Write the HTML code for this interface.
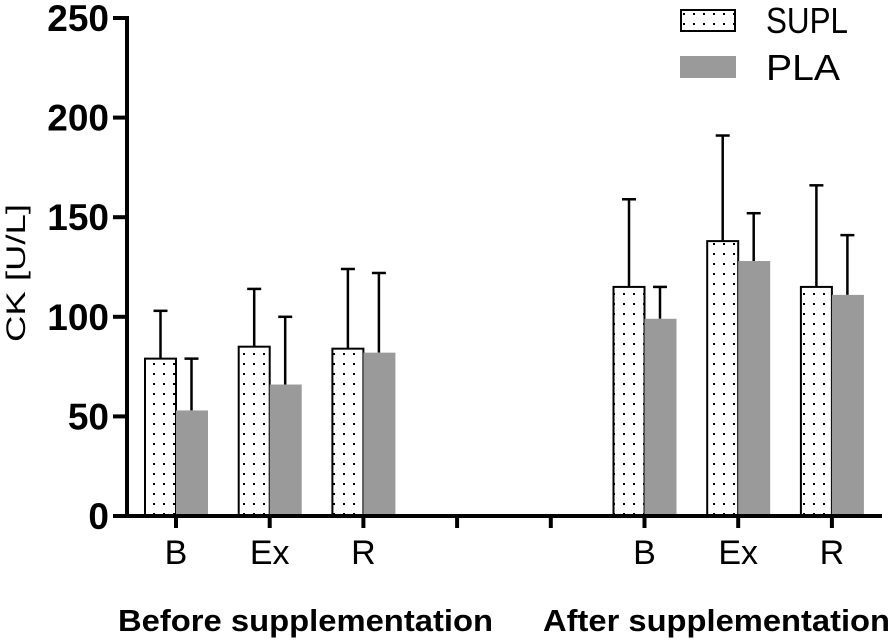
<!DOCTYPE html>
<html><head><meta charset="utf-8">
<style>
html,body{margin:0;padding:0;background:#fff;}
svg{display:block;font-family:"Liberation Sans",Arial,sans-serif;}
</style></head>
<body>
<svg id="chart" width="894" height="641" viewBox="0 0 894 641">
<defs>
<pattern id="dots" width="10" height="10" patternUnits="userSpaceOnUse">
<rect width="10" height="10" fill="#fff"/>
<rect x="3" y="3" width="2" height="2" fill="#000"/>
</pattern>
</defs>
<g id="plot"></g>
</svg>
<script>
const categories = ["B","Ex","R","","","B","Ex","R"];
const slotIndex = [0,1,2,5,6,7];
const suplMeans = [79,85,84,115,138,115];
const suplErr = [103,114,124,159,191,166];
const plaMeans = [53,66,82,99,128,111];
const plaErr = [79,100,122,115,152,141];
const yTicks = [0,50,100,150,200,250];
const groupLabels = ["Before supplementation","After supplementation"];

const NS="http://www.w3.org/2000/svg";
const g=document.getElementById('plot');
const y0=516, pxPerUnit=1.992;
function yScale(v){return y0 - v*pxPerUnit;}
function xScale(i){return 176 + i*93.7;}
function mk(tag,attrs,parent){const e=document.createElementNS(NS,tag);for(const k in attrs)e.setAttribute(k,attrs[k]);(parent||g).appendChild(e);return e;}
const barW=31;

slotIndex.forEach((slot,i)=>{
  const cx=xScale(slot);
  const sTop=yScale(suplMeans[i]);
  const eS=mk('line',{x1:cx-barW/2,x2:cx-barW/2,y1:yScale(suplErr[i]),y2:sTop,stroke:'#000','stroke-width':2.5});
  
  
  const capS=mk('line',{x1:cx-barW/2-7,x2:cx-barW/2+7,y1:yScale(suplErr[i]),y2:yScale(suplErr[i]),stroke:'#000','stroke-width':2.5});
  
  
  const bS=mk('rect',{x:cx-barW,y:sTop,width:barW,height:y0-sTop,fill:'url(#dots)',stroke:'#000','stroke-width':2});
  
  
  const pTop=yScale(plaMeans[i]);
  const eP=mk('line',{x1:cx+barW/2,x2:cx+barW/2,y1:yScale(plaErr[i]),y2:pTop,stroke:'#000','stroke-width':2.5});
  
  
  const capP=mk('line',{x1:cx+barW/2-7,x2:cx+barW/2+7,y1:yScale(plaErr[i]),y2:yScale(plaErr[i]),stroke:'#000','stroke-width':2.5});
  
  
  const bP=mk('rect',{x:cx,y:pTop,width:barW+1,height:y0-pTop,fill:'#9a9a9a'});
  
  
});

const ya=mk('line',{x1:127,x2:127,y1:16,y2:518,stroke:'#000','stroke-width':4});


yTicks.forEach(v=>{
  const y=yScale(v);
  const t=mk('line',{x1:113,x2:127,y1:y,y2:y,stroke:'#000','stroke-width':4});
  
  
  const l=mk('text',{x:109,y:y+13,'text-anchor':'end','font-size':37,'font-weight':'bold'});
  l.textContent=v;
  
  
});
const xa=mk('line',{x1:125,x2:882,y1:y0,y2:y0,stroke:'#000','stroke-width':4});


categories.forEach((c,i)=>{
  const x=xScale(i);
  const t=mk('line',{x1:x,x2:x,y1:y0,y2:y0+12,stroke:'#000','stroke-width':4});
  
  
  if(c){
    const l=mk('text',{x:x,y:564,'text-anchor':'middle','font-size':34});
    l.textContent=c;
    
    
  }
});
[[118,0,375],[543,1,347]].forEach(([x,i,w])=>{
  const l=mk('text',{x:x,y:631,'font-size':31,'font-weight':'bold',textLength:w,lengthAdjust:'spacingAndGlyphs'});
  l.textContent=groupLabels[i];
  
  
});
const yt=mk('text',{x:0,y:0,'font-size':27,'text-anchor':'middle',textLength:138,lengthAdjust:'spacingAndGlyphs',transform:'translate(25,273) rotate(-90)'});
yt.textContent='CK [U/L]';


const lg=mk('g',{});


const ls=mk('rect',{x:681,y:10,width:54,height:21,fill:'url(#dots)',stroke:'#000','stroke-width':2},lg);


const lt=mk('text',{x:766,y:33,'font-size':36,textLength:82,lengthAdjust:'spacingAndGlyphs'},lg);
lt.textContent='SUPL';


const lp=mk('rect',{x:680,y:56,width:56,height:22,fill:'#9a9a9a'},lg);


const lpt=mk('text',{x:766,y:80,'font-size':36,textLength:74,lengthAdjust:'spacingAndGlyphs'},lg);
lpt.textContent='PLA';


</script>
</body></html>
